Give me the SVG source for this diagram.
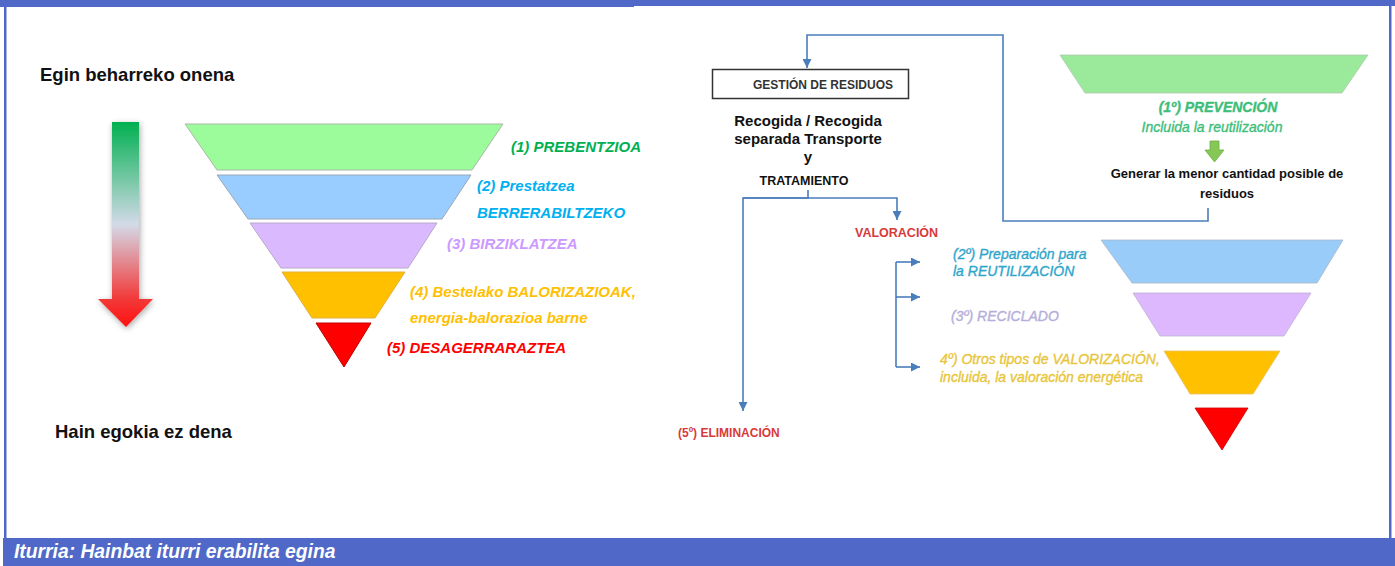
<svg xmlns="http://www.w3.org/2000/svg" width="1395" height="566" viewBox="0 0 1395 566">
<style>
.frame{fill:#5069C8}
.lbl{font-family:"Liberation Sans",Arial,sans-serif}
.bi{font-weight:bold;font-style:italic;font-size:15px}
.blk{font-weight:bold;fill:#111}
.it{font-style:italic;font-size:14px;stroke-width:0.35px}
.con{fill:none;stroke:#4A7EBB;stroke-width:1.6}
.lay{stroke-width:1}
</style>
<defs>
<linearGradient id="gArrow" x1="0" y1="0" x2="0" y2="1">
<stop offset="0" stop-color="#00B050"/>
<stop offset="0.5" stop-color="#D3DAE8"/>
<stop offset="0.86" stop-color="#F23A3A"/>
<stop offset="1" stop-color="#FF1010"/>
</linearGradient>
<filter id="shadow" x="-40%" y="-10%" width="180%" height="125%">
<feGaussianBlur in="SourceAlpha" stdDeviation="3"/>
<feOffset dx="1" dy="2" result="b"/>
<feComponentTransfer><feFuncA type="linear" slope="0.35"/></feComponentTransfer>
<feMerge><feMergeNode/><feMergeNode in="SourceGraphic"/></feMerge>
</filter>
<marker id="ah" viewBox="0 0 10 10" refX="10" refY="5" markerWidth="10" markerHeight="9" markerUnits="userSpaceOnUse" orient="auto">
<path d="M0,0 L10,5 L0,10 z" fill="#4A7EBB"/>
</marker>
</defs>

<!-- frame -->
<rect class="frame" x="0" y="0" width="1395" height="6"/>
<rect class="frame" x="0" y="0" width="634" height="7"/>
<rect class="frame" x="4" y="0" width="2.5" height="540"/>
<rect class="frame" x="1389" y="0" width="2.5" height="540"/>
<rect class="frame" x="3" y="538" width="1392" height="28"/>
<text class="lbl" x="14" y="558" font-size="19.3" font-weight="bold" font-style="italic" fill="#FFFFFF">Iturria: Hainbat iturri erabilita egina</text>

<!-- left: scale -->
<g id="scale-top"><text class="lbl blk" x="40" y="81" font-size="18.5">Egin beharreko onena</text></g>
<g id="scale-bottom"><text class="lbl blk" x="55" y="438" font-size="18.5">Hain egokia ez dena</text></g>
<g id="gradient-arrow">
<polygon points="112,122 139,122 139,299 153,299 126,327 98,299 112,299" fill="url(#gArrow)" filter="url(#shadow)"/>
</g>

<!-- left pyramid -->
<g id="l1"><polygon class="lay" points="185,124 503,124 472,170 217,170" fill="#9CFC9C" stroke="#A9B8A9"/>
<text class="lbl bi" x="511" y="152" fill="#00B050">(1) PREBENTZIOA</text></g>
<g id="l2"><polygon class="lay" points="217,175 471,175 442,219 248,219" fill="#99CCFF" stroke="#9AA8B8"/>
<text class="lbl bi" x="477" y="191" fill="#00B0F0">(2) Prestatzea</text>
<text class="lbl bi" x="477" y="218" fill="#00B0F0">BERRERABILTZEKO</text></g>
<g id="l3"><polygon class="lay" points="250,223 437,223 408,268 281,268" fill="#DBB9FF" stroke="#B8A8C8"/>
<text class="lbl bi" x="447" y="249" fill="#CC99FF">(3) BIRZIKLATZEA</text></g>
<g id="l4"><polygon class="lay" points="282,272 405,272 375,318 312,318" fill="#FFC000" stroke="#E0B040"/>
<text class="lbl bi" x="410" y="297" fill="#FFC000" font-size="15.5">(4) Bestelako BALORIZAZIOAK,</text>
<text class="lbl bi" x="410" y="323" fill="#FFC000" font-size="15.5">energia-balorazioa barne</text></g>
<g id="l5"><polygon class="lay" points="316,323 371,323 344,367" fill="#FF0000" stroke="#C00000"/>
<text class="lbl bi" x="387" y="353" fill="#FF0000">(5) DESAGERRARAZTEA</text></g>

<!-- right flow -->
<g id="connectors">
<path class="con" d="M1208 208 V221 H1003 V35 H807 V68" marker-end="url(#ah)"/>
<path class="con" d="M808 190 V198 H743 V411" marker-end="url(#ah)"/>
<path class="con" d="M743 198 H897 V220" marker-end="url(#ah)"/>
<path class="con" d="M896 262 V367"/>
<path class="con" d="M896 262 H920" marker-end="url(#ah)"/>
<path class="con" d="M896 297 H920" marker-end="url(#ah)"/>
<path class="con" d="M896 367 H920" marker-end="url(#ah)"/>
</g>

<g id="gestion"><rect x="712.5" y="69.5" width="196" height="29" fill="#FFFFFF" stroke="#333333" stroke-width="1.5"/>
<text class="lbl" x="753" y="89" font-size="12" font-weight="bold" fill="#333">GESTIÓN DE RESIDUOS</text></g>
<g id="recogida" text-anchor="middle">
<text class="lbl blk" x="808" y="126" font-size="15">Recogida / Recogida</text>
<text class="lbl blk" x="808" y="144" font-size="15">separada Transporte</text>
<text class="lbl blk" x="808" y="162" font-size="15">y</text>
<text class="lbl blk" x="804" y="185" font-size="12.5">TRATAMIENTO</text></g>
<g id="valoracion"><text class="lbl" x="855" y="237" font-size="12.5" font-weight="bold" fill="#D83A3A">VALORACIÓN</text></g>
<g id="eliminacion"><text class="lbl" x="678" y="437" font-size="12" font-weight="bold" fill="#D83A3A">(5º) ELIMINACIÓN</text></g>
<g id="r2t"><text class="lbl it" x="953" y="259" fill="#2EA6CC" stroke="#2EA6CC">(2º) Preparación para</text>
<text class="lbl it" x="953" y="276" fill="#2EA6CC" stroke="#2EA6CC" font-size="13">la REUTILIZACIÓN</text></g>
<g id="r3t"><text class="lbl it" x="951" y="321" fill="#B4AEDA" stroke="#B4AEDA" font-size="13">(3º) RECICLADO</text></g>
<g id="r4t"><text class="lbl it" x="940" y="364" fill="#E8C53A" stroke="#E8C53A">4º) Otros tipos de VALORIZACIÓN,</text>
<text class="lbl it" x="940" y="382" fill="#E8C53A" stroke="#E8C53A">incluida, la valoración energética</text></g>

<g id="r1"><polygon points="1060,55 1368,55 1342,93 1085,93" fill="#9BEA9B" stroke="#B0C8B0" stroke-width="0.8"/>
<text class="lbl it" x="1218" y="112" text-anchor="middle" fill="#3DBE7A" stroke="#3DBE7A" font-size="12.5" font-weight="bold">(1º) PREVENCIÓN</text>
<text class="lbl it" x="1212" y="132" text-anchor="middle" fill="#3DBE7A" stroke="#3DBE7A">Incluida la reutilización</text>
<polygon points="1210,141 1219,141 1219,150 1224,150 1214.5,162 1205,150 1210,150" fill="#86C856" stroke="#70AD47" stroke-width="0.8"/></g>
<g id="generar" text-anchor="middle">
<text class="lbl blk" x="1227" y="178" font-size="13">Generar la menor cantidad posible de</text>
<text class="lbl blk" x="1227" y="198" font-size="13">residuos</text></g>

<g id="r-pyramid">
<polygon points="1101,240 1343,240 1317,283 1132,283" fill="#99CCF8" stroke="#A8B8C8" stroke-width="0.8"/>
<polygon points="1133,293 1311,293 1284,336 1160,336" fill="#DDB8FF" stroke="#C0B0D0" stroke-width="0.8"/>
<polygon points="1164,351 1280,351 1253,394 1190,394" fill="#FFC000" stroke="#E8C060" stroke-width="0.8"/>
<polygon points="1195,408 1248,408 1222,450" fill="#FF0000" stroke="#D00000" stroke-width="0.8"/>
</g>
</svg>
